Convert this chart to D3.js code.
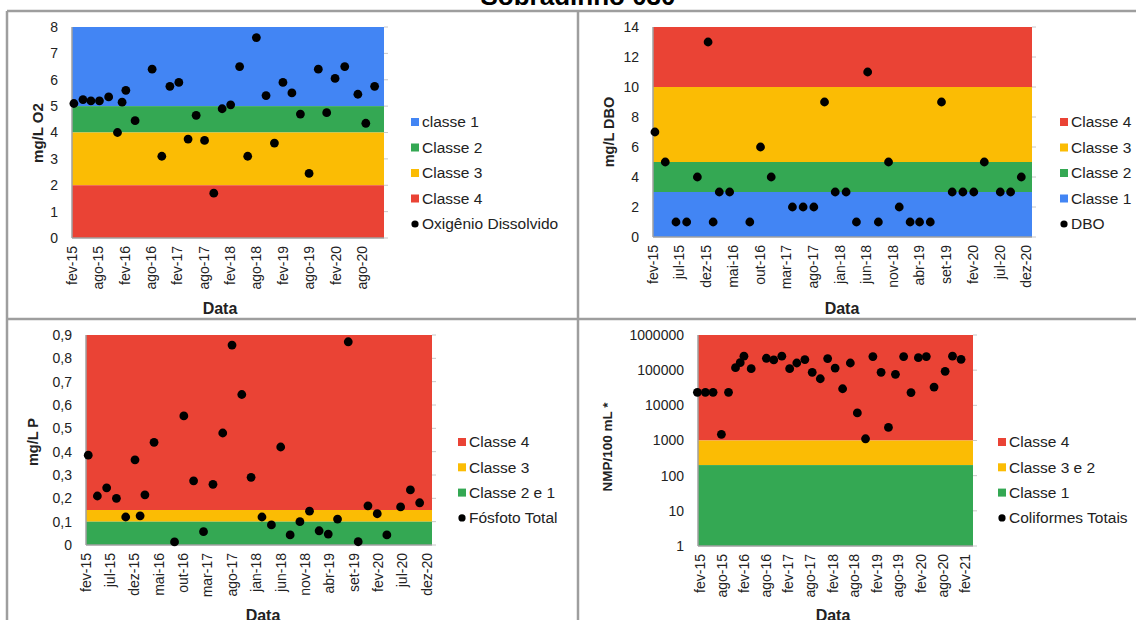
<!DOCTYPE html>
<html>
<head>
<meta charset="utf-8">
<script src="https://cdn.jsdelivr.net/npm/d3@7"></script>
<style>
  html, body { margin: 0; padding: 0; background: #fff; }
  svg { display: block; font-family: "Liberation Sans", Arial, sans-serif; }
</style>
</head>
<body>
<svg id="chart" width="1136" height="620"></svg>
<script>
// ---- Oxigênio Dissolvido (mg/L O2) ----
const o2Dates = ["2015-02-14","2015-04-18","2015-06-12","2015-08-10","2015-10-13","2015-12-13","2016-01-14","2016-02-09","2016-04-13","2016-08-09","2016-10-15","2016-12-10","2017-02-10","2017-04-15","2017-06-10","2017-08-07","2017-10-10","2017-12-07","2018-02-04","2018-04-07","2018-06-02","2018-08-01","2018-10-07","2018-12-04","2019-02-01","2019-04-04","2019-06-02","2019-08-01","2019-10-04","2019-12-01","2020-01-28","2020-04-04","2020-07-04","2020-08-28","2020-10-28"];
const o2Values = [5.1,5.25,5.2,5.2,5.35,4.0,5.15,5.6,4.45,6.4,3.1,5.75,5.9,3.75,4.65,3.7,1.7,4.9,5.05,6.5,3.1,7.6,5.4,3.6,5.9,5.5,4.7,2.45,6.4,4.75,6.05,6.5,5.45,4.35,5.75];
const o2ClassNames = ["classe 1","Classe 2","Classe 3","Classe 4"];
const o2ClassLimits = [[5,8],[4,5],[2,4],[0,2]];
const o2Ticks = ["2015-02-01","2015-08-01","2016-02-01","2016-08-01","2017-02-01","2017-08-01","2018-02-01","2018-08-01","2019-02-01","2019-08-01","2020-02-01","2020-08-01"];

// ---- DBO (mg/L) ----
const dboDates = ["2015-02-12","2015-04-12","2015-06-12","2015-08-12","2015-10-12","2015-12-12","2016-01-10","2016-02-14","2016-04-13","2016-08-06","2016-10-06","2016-12-06","2017-04-06","2017-06-06","2017-08-06","2017-10-06","2017-12-06","2018-02-06","2018-04-06","2018-06-09","2018-08-09","2018-10-06","2018-12-06","2019-02-06","2019-04-01","2019-06-01","2019-08-04","2019-10-04","2019-12-04","2020-02-04","2020-04-04","2020-07-04","2020-09-01","2020-11-01"];
const dboValues = [7,5,1,1,4,13,1,3,3,1,6,4,2,2,2,9,3,3,1,11,1,5,2,1,1,1,9,3,3,3,5,3,3,4];
const dboClassNames = ["Classe 4","Classe 3","Classe 2","Classe 1"];
const dboClassLimits = [[10,14],[5,10],[3,5],[0,3]];
const fiveMonthTicks = ["2015-02-01","2015-07-01","2015-12-01","2016-05-01","2016-10-01","2017-03-01","2017-08-01","2018-01-01","2018-06-01","2018-11-01","2019-04-01","2019-09-01","2020-02-01","2020-07-01","2020-12-01"];

// ---- Fósforo Total (mg/L P) ----
const pDates = ["2015-02-15","2015-04-13","2015-06-10","2015-08-10","2015-10-07","2015-12-04","2016-01-05","2016-02-04","2016-04-01","2016-08-07","2016-10-04","2016-12-04","2017-02-04","2017-04-04","2017-06-04","2017-08-01","2017-10-01","2017-11-28","2018-02-04","2018-04-04","2018-06-01","2018-07-30","2018-09-29","2018-11-28","2019-01-27","2019-03-25","2019-05-22","2019-07-28","2019-09-28","2019-11-28","2020-01-25","2020-03-25","2020-06-19","2020-08-19","2020-10-16"];
const pValues = [0.385,0.21,0.245,0.2,0.12,0.365,0.125,0.215,0.44,0.013,0.553,0.275,0.057,0.26,0.48,0.857,0.645,0.29,0.12,0.086,0.42,0.043,0.1,0.145,0.061,0.047,0.111,0.871,0.014,0.168,0.134,0.043,0.163,0.236,0.181];
const pClassNames = ["Classe 4","Classe 3","Classe 2 e 1"];
const pClassLimits = [[0.15,0.9],[0.1,0.15],[0,0.1]];

// ---- Coliformes Totais (NMP/100 mL) ----
const colDates = ["2015-01-07","2015-03-14","2015-05-17","2015-07-25","2015-09-22","2015-11-19","2015-12-28","2016-01-28","2016-03-28","2016-08-01","2016-10-01","2016-12-07","2017-02-10","2017-04-10","2017-06-16","2017-08-16","2017-10-22","2017-12-22","2018-02-22","2018-04-25","2018-06-28","2018-08-25","2018-11-01","2019-01-01","2019-03-10","2019-05-10","2019-07-07","2019-09-13","2019-11-13","2020-01-13","2020-03-19","2020-05-22","2020-08-22","2020-10-22","2021-01-01"];
const colValues = [23400,23400,23400,1500,23400,118000,163000,250000,110000,218000,195000,250000,110000,160000,200000,87000,57000,213000,115000,29600,160000,6100,1120,243000,87000,2350,76000,243000,23000,227000,243000,33000,93000,250000,204000];
const colClassNames = ["Classe 4","Classe 3 e 2","Classe 1"];
const colClassLimits = [[1000,1000000],[200,1000],[1,200]];
const colTicks = ["2015-02-01","2015-08-01","2016-02-01","2016-08-01","2017-02-01","2017-08-01","2018-02-01","2018-08-01","2019-02-01","2019-08-01","2020-02-01","2020-08-01","2021-02-01"];

const monthNames = ["jan","fev","mar","abr","mai","jun","jul","ago","set","out","nov","dez"];
const parse = d3.timeParse("%Y-%m-%d");
const fmtDate = d => monthNames[d.getMonth()] + "-" + String(d.getFullYear()).slice(2);

const C = { blue: "#4285f4", green: "#34a853", yellow: "#fbbc04", red: "#ea4335" };
const svg = d3.select("#chart");
const gridGray = "#a0a0a0";

// Panel frames
const frame = svg.append("g").attr("stroke", "#9e9e9e").attr("stroke-width", 2.5);
frame.append("line").attr("x1", 7).attr("x2", 7).attr("y1", 11).attr("y2", 620);
frame.append("line").attr("x1", 578).attr("x2", 578).attr("y1", 11).attr("y2", 620);
frame.append("line").attr("x1", 7).attr("x2", 1136).attr("y1", 11).attr("y2", 11);
frame.append("line").attr("x1", 7).attr("x2", 1136).attr("y1", 319).attr("y2", 319);

// Title
svg.append("text").attr("x", 578).attr("y", 5).attr("text-anchor", "middle")
  .attr("font-size", 26).attr("font-weight", "bold").attr("fill", "#000")
  .text("Sobradinho 030");

function panel(cfg) {
  const g = svg.append("g");
  const x = d3.scaleTime().domain(cfg.xDomain.map(parse)).range([cfg.left, cfg.right]);
  const y = (cfg.log ? d3.scaleLog() : d3.scaleLinear()).domain(cfg.yDomain).range([cfg.bottom, cfg.top]);

  // class bands
  g.selectAll("rect.band").data(cfg.classLimits).join("rect")
    .attr("x", cfg.left).attr("width", cfg.right - cfg.left)
    .attr("y", d => y(d[1])).attr("height", d => y(d[0]) - y(d[1]))
    .attr("fill", (d, i) => cfg.colors[i]);

  // axes lines
  g.append("line").attr("x1", cfg.left).attr("x2", cfg.left).attr("y1", cfg.top).attr("y2", cfg.bottom)
    .attr("stroke", gridGray).attr("stroke-width", 1.5);
  g.append("line").attr("x1", cfg.left).attr("x2", cfg.right).attr("y1", cfg.bottom).attr("y2", cfg.bottom)
    .attr("stroke", gridGray).attr("stroke-width", 1.5);

  // y ticks: labels at left, short marks at right
  g.selectAll("line.rt").data(cfg.yTicks).join("line")
    .attr("x1", cfg.right).attr("x2", cfg.right + 4)
    .attr("y1", d => y(d)).attr("y2", d => y(d))
    .attr("stroke", "#c8c8c8").attr("stroke-width", 1);
  g.selectAll("text.yt").data(cfg.yTicks).join("text")
    .attr("x", cfg.left - 14).attr("y", d => y(d)).attr("dy", "0.35em")
    .attr("text-anchor", "end").attr("font-size", 14).attr("fill", "#222")
    .text(cfg.yFormat);

  // x tick labels (vertical)
  g.selectAll("text.xt").data(cfg.xTicks.map(parse)).join("text")
    .attr("transform", d => `translate(${x(d)},${cfg.bottom + 8}) rotate(-90)`)
    .attr("dy", "0.35em").attr("text-anchor", "end")
    .attr("font-size", 14).attr("fill", "#222")
    .text(fmtDate);

  // data points
  g.selectAll("circle.pt").data(cfg.dates.map((d, i) => [parse(d), cfg.values[i]])).join("circle")
    .attr("cx", d => x(d[0])).attr("cy", d => y(d[1])).attr("r", 4.4).attr("fill", "#000");

  // axis titles
  g.append("text").attr("transform", `translate(${cfg.yTitle[0]},${cfg.yTitle[1]}) rotate(-90)`)
    .attr("text-anchor", "middle").attr("dy", "0.35em")
    .attr("font-size", cfg.yTitleSize).attr("font-weight", "bold").attr("fill", "#222")
    .text(cfg.yLabel);
  g.append("text").attr("x", cfg.xTitle[0]).attr("y", cfg.xTitle[1])
    .attr("text-anchor", "middle").attr("font-size", 16).attr("font-weight", "bold").attr("fill", "#222")
    .text("Data");

  // legend
  const items = cfg.classNames.map((n, i) => ({ name: n, color: cfg.colors[i], square: true }))
    .concat([{ name: cfg.seriesName, color: "#000", square: false }]);
  const lg = g.append("g");
  items.forEach((it, i) => {
    const cy = cfg.legend[1] + i * cfg.legendStep;
    if (it.square) {
      lg.append("rect").attr("x", cfg.legend[0]).attr("y", cy - 4).attr("width", 8).attr("height", 8).attr("fill", it.color);
    } else {
      lg.append("circle").attr("cx", cfg.legend[0] + 4).attr("cy", cy).attr("r", 3.6).attr("fill", "#000");
    }
    lg.append("text").attr("x", cfg.legend[0] + 11).attr("y", cy).attr("dy", "0.35em")
      .attr("font-size", 15.5).attr("fill", "#222").text(it.name);
  });
}

panel({
  left: 72, right: 384, top: 27, bottom: 238,
  xDomain: ["2015-02-01", "2021-01-01"], yDomain: [0, 8], yTicks: d3.range(0, 9),
  yFormat: d => d, xTicks: o2Ticks,
  dates: o2Dates, values: o2Values,
  classNames: o2ClassNames, classLimits: o2ClassLimits,
  colors: [C.blue, C.green, C.yellow, C.red],
  seriesName: "Oxigênio Dissolvido",
  yLabel: "mg/L O2", yTitle: [38, 133], yTitleSize: 15, xTitle: [220, 314],
  legend: [411, 122], legendStep: 25.5
});

panel({
  left: 653, right: 1032, top: 27, bottom: 237,
  xDomain: ["2015-02-01", "2021-01-01"], yDomain: [0, 14], yTicks: d3.range(0, 15, 2),
  yFormat: d => d, xTicks: fiveMonthTicks,
  dates: dboDates, values: dboValues,
  classNames: dboClassNames, classLimits: dboClassLimits,
  colors: [C.red, C.yellow, C.green, C.blue],
  seriesName: "DBO",
  yLabel: "mg/L DBO", yTitle: [609, 132], yTitleSize: 14.5, xTitle: [842, 314],
  legend: [1060, 122], legendStep: 25.5
});

panel({
  left: 86, right: 432, top: 335, bottom: 545,
  xDomain: ["2015-02-01", "2021-01-01"], yDomain: [0, 0.9], yTicks: d3.range(0, 10).map(i => i / 10),
  yFormat: d => d === 0 ? "0" : String(d).replace(".", ","), xTicks: fiveMonthTicks,
  dates: pDates, values: pValues,
  classNames: pClassNames, classLimits: pClassLimits,
  colors: [C.red, C.yellow, C.green],
  seriesName: "Fósfoto Total",
  yLabel: "mg/L P", yTitle: [33, 442], yTitleSize: 14.5, xTitle: [263, 621],
  legend: [458, 442], legendStep: 25.3
});

panel({
  left: 698, right: 973, top: 335, bottom: 546, log: true,
  xDomain: ["2015-01-12", "2021-04-10"], yDomain: [1, 1000000], yTicks: [1, 10, 100, 1000, 10000, 100000, 1000000],
  yFormat: d3.format("d"), xTicks: colTicks,
  dates: colDates, values: colValues,
  classNames: colClassNames, classLimits: colClassLimits,
  colors: [C.red, C.yellow, C.green],
  seriesName: "Coliformes Totais",
  yLabel: "NMP/100 mL *", yTitle: [607, 447], yTitleSize: 13.5, xTitle: [833, 621],
  legend: [998, 442], legendStep: 25.3
});
</script>
</body>
</html>
